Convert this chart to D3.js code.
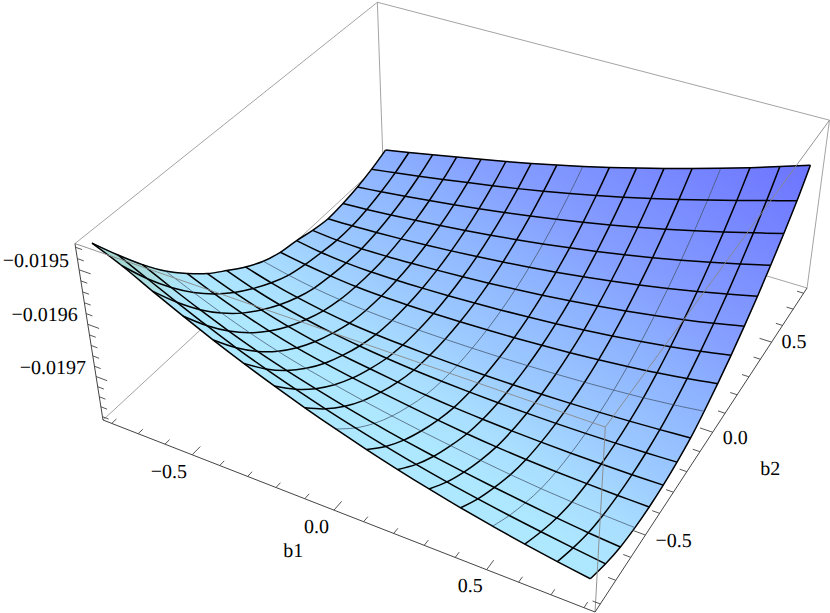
<!DOCTYPE html>
<html><head><meta charset="utf-8">
<script src="https://cdnjs.cloudflare.com/ajax/libs/d3/7.8.5/d3.min.js"></script>
<style>html,body{margin:0;padding:0;background:#fff}svg{display:block}text{font-family:"Liberation Serif",serif;font-size:20px;fill:#000;text-rendering:geometricPrecision}</style>
</head><body><svg id="c" width="830" height="613"></svg>
<script>
const b1Nodes=[-0.8,-0.7,-0.6,-0.5,-0.4,-0.3,-0.2,-0.1,0,0.1,0.2,0.3,0.4,0.5,0.6,0.7,0.8];
const b2Nodes=[-0.8,-0.7,-0.6,-0.5,-0.4,-0.3,-0.2,-0.1,0,0.1,0.2,0.3,0.4,0.5,0.6,0.7,0.8];
// surface height: one row per b1 node, one column per b2 node
const zRows=[
[-0.0194574,-0.0195103,-0.0195600,-0.0196045,-0.0196416,-0.0196744,-0.0197008,-0.0197257,-0.0197462,-0.0197591,-0.0197658,-0.0197750,-0.0197806,-0.0197778,-0.0197716,-0.0197615,-0.0197481],
[-0.0194803,-0.0195362,-0.0195853,-0.0196279,-0.0196640,-0.0196943,-0.0197196,-0.0197409,-0.0197577,-0.0197676,-0.0197742,-0.0197793,-0.0197795,-0.0197745,-0.0197660,-0.0197540,-0.0197381],
[-0.0195079,-0.0195616,-0.0196092,-0.0196496,-0.0196838,-0.0197115,-0.0197347,-0.0197533,-0.0197669,-0.0197741,-0.0197790,-0.0197806,-0.0197772,-0.0197702,-0.0197597,-0.0197457,-0.0197279],
[-0.0195343,-0.0195861,-0.0196313,-0.0196694,-0.0197009,-0.0197263,-0.0197465,-0.0197628,-0.0197734,-0.0197789,-0.0197811,-0.0197795,-0.0197741,-0.0197652,-0.0197528,-0.0197370,-0.0197175],
[-0.0195593,-0.0196089,-0.0196512,-0.0196865,-0.0197152,-0.0197380,-0.0197559,-0.0197700,-0.0197777,-0.0197812,-0.0197810,-0.0197773,-0.0197702,-0.0197595,-0.0197455,-0.0197280,-0.0197070],
[-0.0195827,-0.0196292,-0.0196684,-0.0197007,-0.0197267,-0.0197469,-0.0197633,-0.0197746,-0.0197801,-0.0197817,-0.0197798,-0.0197745,-0.0197657,-0.0197535,-0.0197379,-0.0197188,-0.0196963],
[-0.0196046,-0.0196477,-0.0196838,-0.0197132,-0.0197365,-0.0197546,-0.0197692,-0.0197776,-0.0197813,-0.0197813,-0.0197778,-0.0197710,-0.0197606,-0.0197469,-0.0197297,-0.0197091,-0.0196850],
[-0.0196249,-0.0196648,-0.0196978,-0.0197244,-0.0197451,-0.0197618,-0.0197738,-0.0197797,-0.0197817,-0.0197801,-0.0197752,-0.0197667,-0.0197549,-0.0197396,-0.0197208,-0.0196986,-0.0196730],
[-0.0196437,-0.0196805,-0.0197105,-0.0197344,-0.0197529,-0.0197680,-0.0197770,-0.0197811,-0.0197814,-0.0197783,-0.0197718,-0.0197618,-0.0197484,-0.0197315,-0.0197112,-0.0196875,-0.0196603],
[-0.0196611,-0.0196948,-0.0197220,-0.0197433,-0.0197603,-0.0197729,-0.0197793,-0.0197817,-0.0197805,-0.0197758,-0.0197677,-0.0197561,-0.0197411,-0.0197227,-0.0197008,-0.0196756,-0.0196469],
[-0.0196771,-0.0197078,-0.0197323,-0.0197512,-0.0197667,-0.0197763,-0.0197808,-0.0197815,-0.0197788,-0.0197726,-0.0197629,-0.0197497,-0.0197331,-0.0197131,-0.0196897,-0.0196629,-0.0196328],
[-0.0196917,-0.0197196,-0.0197414,-0.0197587,-0.0197719,-0.0197789,-0.0197816,-0.0197807,-0.0197764,-0.0197687,-0.0197573,-0.0197424,-0.0197242,-0.0197027,-0.0196778,-0.0196495,-0.0196179],
[-0.0197050,-0.0197301,-0.0197495,-0.0197654,-0.0197757,-0.0197806,-0.0197816,-0.0197792,-0.0197734,-0.0197640,-0.0197508,-0.0197343,-0.0197145,-0.0196914,-0.0196651,-0.0196354,-0.0196025],
[-0.0197171,-0.0197395,-0.0197571,-0.0197709,-0.0197784,-0.0197815,-0.0197810,-0.0197770,-0.0197696,-0.0197582,-0.0197433,-0.0197251,-0.0197038,-0.0196793,-0.0196515,-0.0196206,-0.0195864],
[-0.0197279,-0.0197478,-0.0197640,-0.0197749,-0.0197802,-0.0197817,-0.0197796,-0.0197741,-0.0197650,-0.0197514,-0.0197347,-0.0197149,-0.0196921,-0.0196662,-0.0196372,-0.0196052,-0.0195699],
[-0.0197375,-0.0197555,-0.0197698,-0.0197778,-0.0197813,-0.0197812,-0.0197776,-0.0197705,-0.0197589,-0.0197433,-0.0197248,-0.0197035,-0.0196793,-0.0196522,-0.0196223,-0.0195894,-0.0195524],
[-0.0197460,-0.0197625,-0.0197742,-0.0197799,-0.0197817,-0.0197800,-0.0197748,-0.0197662,-0.0197513,-0.0197337,-0.0197136,-0.0196908,-0.0196655,-0.0196375,-0.0196069,-0.0195737,-0.0195342]
];
const thinB1=[8,13], thinB2=[3,8];
const b1Minor=b1Nodes, b2Minor=b2Nodes;
const zMinor=[-0.01978,-0.01976,-0.01974,-0.01972,-0.0197,-0.01968,-0.01966,-0.01964,-0.01962,-0.0196,-0.01958,-0.01956,-0.01954,-0.01952,-0.0195,-0.01948,-0.01946];
const b1Labels=[[-0.5,"\u22120.5",-5,23],[0,"0.0",-5,23],[0.5,"0.5",-4,22]];
const b2Labels=[[-0.5,"\u22120.5",10,12],[0,"0.0",10,12],[0.5,"0.5",10,6]];
const zLabels=[[-0.0195,"\u22120.0195"],[-0.0196,"\u22120.0196"],[-0.0197,"\u22120.0197"]];
const isMajor=(v,s)=>Math.abs(v/s-Math.round(v/s))<1e-6;

const U=d3.scaleLinear().domain([-0.8333,0.8333]).range([0,1]);
const V=d3.scaleLinear().domain([-0.8333,0.8333]).range([0,1]);
const W=d3.scaleLinear().domain([-0.0197867,-0.0194534]).range([0,1]);
const P=[[423.5,363.5,-33.3,103],[121.5,-223.9,-193.5,420],[-0.1152,0.218,-0.07,1]];
const proj=(u,v,w)=>{const d=P[2][0]*u+P[2][1]*v+P[2][2]*w+P[2][3];
 return [(P[0][0]*u+P[0][1]*v+P[0][2]*w+P[0][3])/d,(P[1][0]*u+P[1][1]*v+P[1][2]*w+P[1][3])/d];};
const node=(i,j)=>proj(U(b1Nodes[i]),V(b2Nodes[j]),W(zRows[i][j]));

const svg=d3.select("#c");
const defs=svg.append("defs");
const g1=defs.append("linearGradient").attr("id","sf").attr("gradientUnits","userSpaceOnUse")
 .attr("x1",-116*0.587).attr("y1",116*0.81).attr("x2",342*0.587).attr("y2",-342*0.81);
[[0,"#aee8ff"],[0.12,"#a9deff"],[0.25,"#9ccaff"],[0.47,"#8cb0ff"],[0.57,"#86a0ff"],[1,"#6c74ff"]].forEach(s=>g1.append("stop").attr("offset",s[0]).attr("stop-color",s[1]));
const g2=defs.append("radialGradient").attr("id","teal").attr("gradientUnits","userSpaceOnUse").attr("cx",105).attr("cy",268).attr("r",105);
[[0,"#9fd2c8",0.95],[0.5,"#aadcd8",0.7],[1,"#aee6ff",0]].forEach(s=>g2.append("stop").attr("offset",s[0]).attr("stop-color",s[1]).attr("stop-opacity",s[2]));

const line=d3.line().curve(d3.curveLinear);
const seg=(a,b)=>line([proj(...a),proj(...b)]);
const back=[[[0,0,0],[0,1,0]],[[0,1,0],[1,1,0]],[[0,1,0],[0,1,1]],[[0,0,1],[0,1,1]],[[0,1,1],[1,1,1]],[[1,1,0],[1,1,1]]];
const front=[[[0,0,1],[1,0,1]],[[1,0,1],[1,1,1]],[[1,0,0],[1,0,1]]];
const axes=[[[0,0,0],[1,0,0]],[[1,0,0],[1,1,0]],[[0,0,0],[0,0,1]]];
svg.append("g").selectAll("path").data(back).join("path").attr("d",d=>seg(...d)).attr("fill","none").attr("stroke","#999").attr("stroke-width",0.9);

const cells=[];
for(let j=15;j>=0;j--)for(let i=0;i<16;i++)cells.push([i,j]);
const poly=([i,j])=>"M"+[node(i,j),node(i+1,j),node(i+1,j+1),node(i,j+1)].join("L")+"Z";
svg.append("g").selectAll("path").data(cells).join("path").attr("d",poly).attr("fill","url(#sf)").attr("stroke","url(#sf)").attr("stroke-width",0.6);
svg.append("g").selectAll("path").data(cells).join("path").attr("d",poly).attr("fill","url(#teal)");

const smooth=d3.line().curve(d3.curveCatmullRom.alpha(0.5));
const mesh=[];
b1Nodes.forEach((_,i)=>mesh.push({p:b2Nodes.map((_,j)=>node(i,j)),thin:thinB1.includes(i)}));
b2Nodes.forEach((_,j)=>mesh.push({p:b1Nodes.map((_,i)=>node(i,j)),thin:thinB2.includes(j)}));
svg.append("g").selectAll("path").data(mesh).join("path").attr("d",d=>smooth(d.p)).attr("fill","none")
 .attr("stroke",d=>d.thin?"#3a4a60":"#000").attr("stroke-width",d=>d.thin?0.7:1.5);

svg.append("g").selectAll("path").data(front).join("path").attr("d",d=>seg(...d)).attr("fill","none").attr("stroke","#888").attr("stroke-width",0.9);
svg.append("g").selectAll("path").data(axes).join("path").attr("d",d=>seg(...d)).attr("fill","none").attr("stroke","#444").attr("stroke-width",1);

const ticks=[];
b1Minor.forEach(b=>{const u=U(b),L=isMajor(b,0.5)?0.025:0.014;ticks.push([[u,0,0],[u,L,0]]);});
b2Minor.forEach(b=>{const v=V(b),L=isMajor(b,0.5)?0.025:0.014;ticks.push([[1,v,0],[1-L,v,0]]);});
zMinor.forEach(z=>{const w=W(z),L=isMajor(z,0.0001)?0.025:0.014;ticks.push([[0,0,w],[L,0,w]]);});
svg.append("g").selectAll("path").data(ticks).join("path").attr("d",d=>seg(...d)).attr("fill","none").attr("stroke","#444").attr("stroke-width",0.9);

const T=svg.append("g");
b1Labels.forEach(([b,t,dx,dy])=>{const p=proj(U(b),0,0);T.append("text").attr("x",p[0]+dx).attr("y",p[1]+dy).attr("text-anchor","end").text(t);});
b2Labels.forEach(([b,t,dx,dy])=>{const p=proj(1,V(b),0);T.append("text").attr("x",p[0]+dx).attr("y",p[1]+dy).text(t);});
zLabels.forEach(([z,t])=>{const p=proj(0,0,W(z));T.append("text").attr("x",p[0]-10).attr("y",p[1]-3).attr("text-anchor","end").text(t);});
const a1=proj(U(-0.05),0,0);T.append("text").attr("x",a1[0]-26).attr("y",a1[1]+53).attr("text-anchor","middle").text("b1");
const a2=proj(1,V(-0.05),0);T.append("text").attr("x",a2[0]+64).attr("y",a2[1]+33).attr("text-anchor","middle").text("b2");
</script></body></html>
